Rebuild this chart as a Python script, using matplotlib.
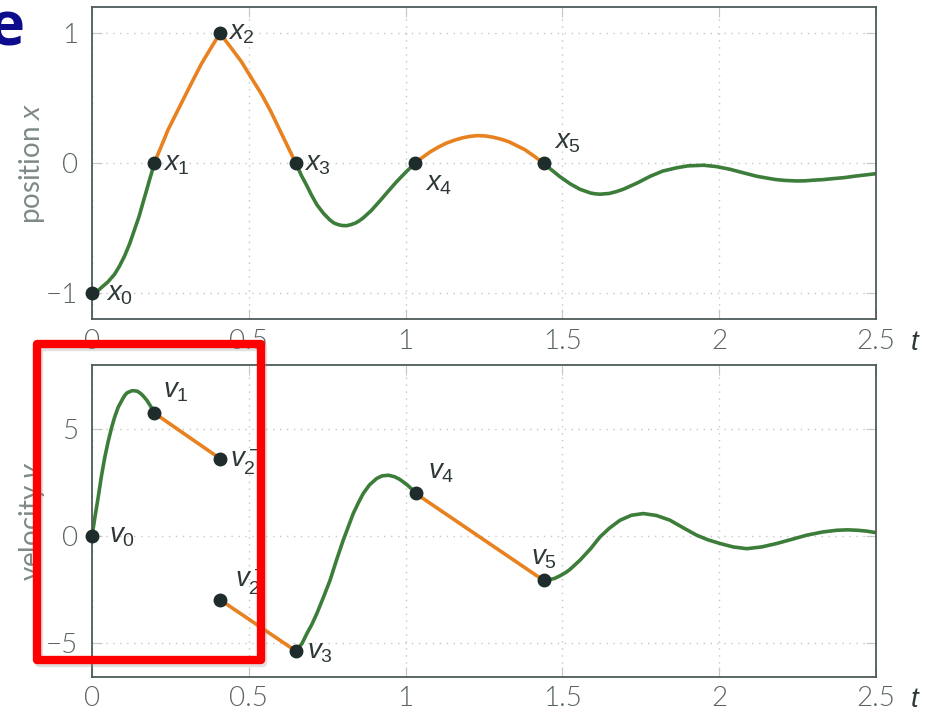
import matplotlib
matplotlib.use('Agg')
import matplotlib.pyplot as plt
from matplotlib.patches import Rectangle

plt.rcParams['font.family'] = ['Lato', 'DejaVu Sans']
plt.rcParams['font.weight'] = 300
plt.rcParams['mathtext.fontset'] = 'custom'
plt.rcParams['mathtext.it'] = 'Liberation Sans:italic'
plt.rcParams['mathtext.rm'] = 'Liberation Sans'

# position x(t), one list per segment
t_pos_1 = [0, 0.015, 0.03, 0.05, 0.072, 0.088, 0.104, 0.12, 0.136, 0.15, 0.163,
           0.175, 0.184, 0.19, 0.198]
x_pos_1 = [-1, -0.99, -0.956, -0.915, -0.854, -0.79, -0.713, -0.62, -0.508, -0.41,
           -0.30, -0.2, -0.123, -0.075, 0]
t_pos_2 = [0.198, 0.22, 0.243, 0.27, 0.297, 0.32, 0.35, 0.38, 0.408]
x_pos_2 = [0, 0.125, 0.26, 0.39, 0.52, 0.63, 0.77, 0.89, 1.0]
t_pos_3 = [0.408, 0.44, 0.477, 0.51, 0.541, 0.57, 0.594, 0.62, 0.65]
x_pos_3 = [1.0, 0.9, 0.78, 0.65, 0.53, 0.4, 0.28, 0.15, 0]
t_pos_4 = [0.65, 0.668, 0.685, 0.70, 0.717, 0.738, 0.759, 0.772, 0.785, 0.798, 0.812,
           0.826, 0.84, 0.852, 0.865, 0.89, 0.918, 0.945, 0.972, 1.0, 1.03]
x_pos_4 = [0, -0.095, -0.172, -0.245, -0.318, -0.385, -0.437, -0.46, -0.472, -0.479,
           -0.48, -0.472, -0.46, -0.443, -0.42, -0.365, -0.29, -0.214, -0.14, -0.07, 0]
t_pos_5 = [1.03, 1.055, 1.08, 1.105, 1.13, 1.155, 1.18, 1.205, 1.23, 1.255, 1.28,
           1.305, 1.33, 1.355, 1.38, 1.41, 1.44]
x_pos_5 = [0, 0.047, 0.09, 0.125, 0.155, 0.177, 0.195, 0.207, 0.213, 0.21, 0.2,
           0.185, 0.165, 0.135, 0.105, 0.055, 0]
t_pos_6 = [1.44, 1.465, 1.49, 1.524, 1.556, 1.59, 1.605, 1.62, 1.65, 1.672, 1.694,
           1.74, 1.78, 1.82, 1.864, 1.9, 1.95, 1.99, 2.034, 2.075, 2.12, 2.155,
           2.18, 2.21, 2.247, 2.275, 2.3, 2.33, 2.364, 2.4, 2.43, 2.465, 2.5]
x_pos_6 = [0, -0.05, -0.099, -0.157, -0.2, -0.229, -0.235, -0.238, -0.232, -0.218,
           -0.2, -0.15, -0.1, -0.06, -0.035, -0.02, -0.015, -0.025, -0.046, -0.072,
           -0.1, -0.115, -0.125, -0.132, -0.136, -0.135, -0.13, -0.126, -0.118,
           -0.11, -0.1, -0.09, -0.08]

# velocity v(t)
t_vel_1 = [0, 0.01, 0.02, 0.03, 0.041, 0.052, 0.063, 0.073, 0.084, 0.09, 0.098, 0.105,
           0.112, 0.12, 0.128, 0.137, 0.145, 0.152, 0.158, 0.164, 0.175, 0.185,
           0.19, 0.198]
v_vel_1 = [0, 0.95, 1.84, 2.8, 3.7, 4.45, 5.1, 5.6, 6.04, 6.2, 6.42, 6.59, 6.7, 6.75,
           6.8, 6.79, 6.77, 6.7, 6.63, 6.54, 6.35, 6.12, 6.0, 5.76]
t_vel_2 = [0.198, 0.408]
v_vel_2 = [5.76, 3.63]
t_vel_3 = [0.408, 0.65]
v_vel_3 = [-2.96, -5.36]
t_vel_4 = [0.65, 0.67, 0.685, 0.70, 0.717, 0.738, 0.759, 0.78, 0.801, 0.833, 0.85,
           0.865, 0.885, 0.908, 0.925, 0.945, 0.965, 0.982, 1.005, 1.02, 1.032]
v_vel_4 = [-5.36, -5.0, -4.55, -4.15, -3.61, -2.85, -2.06, -1.1, -0.19, 1.06, 1.58,
           2.0, 2.4, 2.7, 2.82, 2.85, 2.78, 2.65, 2.4, 2.2, 2.0]
t_vel_5 = [1.032, 1.44]
v_vel_5 = [2.0, -2.06]
t_vel_6 = [1.44, 1.46, 1.475, 1.492, 1.51, 1.524, 1.556, 1.59, 1.62, 1.65, 1.684,
           1.72, 1.758, 1.80, 1.843, 1.885, 1.928, 1.965, 2.003, 2.045, 2.088,
           2.135, 2.183, 2.23, 2.279, 2.33, 2.375, 2.41, 2.44, 2.47, 2.5]
v_vel_6 = [-2.06, -2.02, -1.97, -1.85, -1.7, -1.55, -1.12, -0.58, -0.03, 0.38, 0.75,
           0.98, 1.06, 0.97, 0.75, 0.4, 0.05, -0.17, -0.34, -0.5, -0.58,
           -0.5, -0.34, -0.15, 0.05, 0.2, 0.28, 0.3, 0.28, 0.24, 0.17]

# marked points and their labels
t_marks_x = [0, 0.198, 0.408, 0.65, 1.03, 1.44]
x_marks = [-1, 0, 1, 0, 0, 0]
x_labels = [r'$x_0$', r'$x_1$', r'$x_2$', r'$x_3$', r'$x_4$', r'$x_5$']
t_marks_v = [0, 0.198, 0.408, 0.408, 0.65, 1.032, 1.44]
v_marks = [0, 5.76, 3.63, -2.96, -5.36, 2.0, -2.06]
v_labels = [r'$v_0$', r'$v_1$', r'$v_2^-$', r'$v_2^+$', r'$v_3$', r'$v_4$', r'$v_5$']

t_ticks = [0, 0.5, 1, 1.5, 2, 2.5]
t_ticklabels = ['0', '0.5', '1', '1.5', '2', '2.5']

GREEN = '#3d7d3a'
ORANGE = '#e8811f'
DOT = '#1f2c2c'
TEXT = '#5a6464'

fig = plt.figure(figsize=(9.32, 7.11), dpi=100)
ax1 = fig.add_axes([0.0987, 0.551, 0.8412, 0.4387])
ax2 = fig.add_axes([0.0987, 0.0482, 0.8412, 0.4385])

lw = 2.6
segs = dict(color=GREEN, lw=lw, solid_capstyle='round', solid_joinstyle='round')
ax1.plot(t_pos_1, x_pos_1, **segs)
ax1.plot(t_pos_2, x_pos_2, **{**segs, 'color': ORANGE})
ax1.plot(t_pos_3, x_pos_3, **{**segs, 'color': ORANGE})
ax1.plot(t_pos_4, x_pos_4, **segs)
ax1.plot(t_pos_5, x_pos_5, **{**segs, 'color': ORANGE})
ax1.plot(t_pos_6, x_pos_6, **segs)
ax1.plot(t_marks_x, x_marks, 'o', color=DOT, ms=9, zorder=5, clip_on=False)

ax2.plot(t_vel_1, v_vel_1, **segs)
ax2.plot(t_vel_2, v_vel_2, **{**segs, 'color': ORANGE})
ax2.plot(t_vel_3, v_vel_3, **{**segs, 'color': ORANGE})
ax2.plot(t_vel_4, v_vel_4, **segs)
ax2.plot(t_vel_5, v_vel_5, **{**segs, 'color': ORANGE})
ax2.plot(t_vel_6, v_vel_6, **segs)
ax2.plot(t_marks_v, v_marks, 'o', color=DOT, ms=9, zorder=5, clip_on=False)

# label offsets in pixels from each point
x_offsets = [(14, -1, 'left'), (9, -1, 'left'), (8, 0, 'left'), (8, -1, 'left'),
             (24, -21, 'center'), (24, 21, 'center')]
v_offsets = [(17, 0, 'left'), (22, 21, 'center'), (10, -3, 'left'), (30, 19, 'center'),
             (11, -1, 'left'), (26, 21, 'center'), (0, 22, 'center')]
for t, y, s, (dx, dy, ha) in zip(t_marks_x, x_marks, x_labels, x_offsets):
    ax1.annotate(s, (t, y), xytext=(dx, dy), textcoords='offset pixels',
                 ha=ha, va='center', fontsize=20, color='#2e3838', zorder=6)
for t, y, s, (dx, dy, ha) in zip(t_marks_v, v_marks, v_labels, v_offsets):
    ax2.annotate(s, (t, y), xytext=(dx, dy), textcoords='offset pixels',
                 ha=ha, va='center', fontsize=20, color='#2e3838', zorder=6)

for ax, yt, ytl, ylim, lab in [
        (ax1, [-1, 0, 1], ['\u22121', '0', '1'], (-1.2, 1.2), r'position $x$'),
        (ax2, [-5, 0, 5], ['\u22125', '0', '5'], (-6.56, 8.0), r'velocity $v$')]:
    ax.set_xlim(0, 2.5)
    ax.set_ylim(*ylim)
    ax.set_xticks(t_ticks)
    ax.set_xticklabels(t_ticklabels)
    ax.set_yticks(yt)
    ax.set_yticklabels(ytl)
    ax.tick_params(direction='in', length=7, width=0.8, color='#c4c8c8',
                   labelsize=20, labelcolor=TEXT, top=True, right=True)
    ax.tick_params(axis='x', pad=7)
    ax.tick_params(axis='y', pad=10)
    ax.grid(True, ls=(0, (1, 4)), lw=1.0, color='#c6c6c6')
    for sp in ax.spines.values():
        sp.set_color('#4e5a5a')
        sp.set_linewidth(1.3)
    ax.set_ylabel(lab, fontsize=20, color='#7f8989')
    ax.yaxis.set_label_coords(-0.058, 0.5)
    ax.annotate(r'$t$', (1, 0), xycoords='axes fraction', xytext=(39, -23),
                textcoords='offset pixels', ha='center', va='center',
                fontsize=20, color='#2e3838', annotation_clip=False)

# cut-off slide title letter
fig.text(24 / 932, 1 - 30 / 711, 'e', ha='right', va='center', fontsize=44,
         fontweight='bold', color='#0c0c8c', family='Open Sans')

# red highlight box with soft shadow
x0, y0, w, h = 37 / 932, 1 - 660 / 711, 224 / 932, 316 / 711
fig.patches.append(Rectangle((x0 + 2 / 932, y0 - 3 / 711), w, h,
                             transform=fig.transFigure, fill=False,
                             ec='#999999', lw=6, alpha=0.3, joinstyle='round',
                             zorder=9))
fig.patches.append(Rectangle((x0, y0), w, h, transform=fig.transFigure,
                             fill=False, ec='#ff0000', lw=6, joinstyle='round',
                             zorder=10))

fig.savefig('out.png', dpi=100)
